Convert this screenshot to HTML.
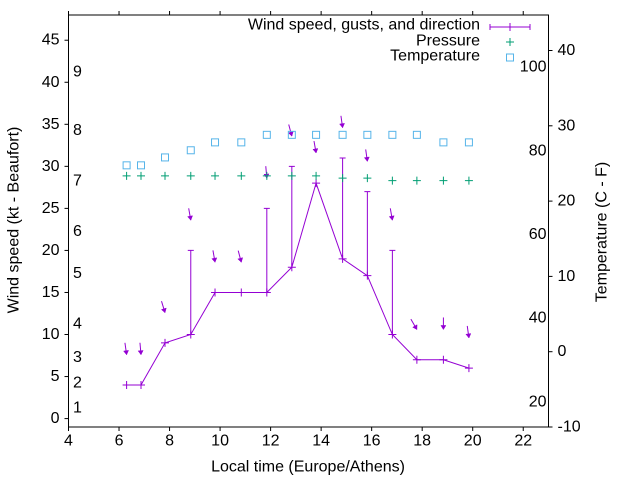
<!DOCTYPE html>
<html><head><meta charset="utf-8"><style>
body{margin:0;background:#fff}
svg{display:block;font-family:"Liberation Sans",sans-serif}
</style></head><body>
<svg id="c" width="640" height="480" viewBox="0 0 640 480"></svg>
<script>
const times=[6.3,6.87,7.82,8.84,9.8,10.84,11.85,12.84,13.8,14.85,15.83,16.82,17.79,18.84,19.85];
const speeds=[4,4,9,10,15,15,15,18,28,19,17,10,7,7,6];
const gusts=[4,4,9,20,15,15,25,30,28,31,27,20,7,7,6];
const directions=[352,355,343,350,350,345,355,345,350,352,352,350,330,0,352];
const pressure=[28.87,28.87,28.87,28.87,28.87,28.87,28.87,28.87,28.87,28.6,28.6,28.3,28.3,28.3,28.3];
const tempC=[24.75,24.75,25.8,26.75,27.8,27.8,28.8,28.8,28.8,28.8,28.8,28.8,28.8,27.8,27.8];
const xTicks=[4,6,8,10,12,14,16,18,20,22];
const yTicks=[0,5,10,15,20,25,30,35,40,45];
const cTicks=[-10,0,10,20,30,40];
const fTicks=[20,40,60,80,100];
const beaufortKt=[1,4,7,11,17,22,28,34,41];
const beaufortLabels=["1","2","3","4","5","6","7","8","9"];

const L=68.5,R=548.5,T=15,B=427;
const FS=16;
const X=v=>L+(v-4)*(R-L)/19;
const Y=v=>B-(v+1)*(B-T)/49;
const YC=c=>427-(c+10)*7.53;
const YF=f=>YC((f-32)*5/9);
const svg=document.getElementById('c');
const NS='http://www.w3.org/2000/svg';
function mk(tag,attrs,name,parent){const e=document.createElementNS(NS,tag);for(const k in attrs)e.setAttribute(k,attrs[k]);


(parent||svg).appendChild(e);return e;}
function txt(x,y,s,anchor,name,extra){const t=mk('text',Object.assign({x:x,y:y,'font-size':FS,fill:'#000','text-anchor':anchor||'middle','dominant-baseline':'central'},extra||{}),name);t.textContent=s;return t;}

mk('rect',{x:L,y:T,width:R-L,height:B-T,fill:'none',stroke:'#000','stroke-width':1},'plot-frame');
xTicks.forEach(v=>{mk('line',{x1:X(v),x2:X(v),y1:B,y2:B+4,stroke:'#000'},'x-tick');mk('line',{x1:X(v),x2:X(v),y1:T,y2:T-4,stroke:'#000'},'x2-tick');txt(X(v),B+14,String(v),'middle','x-tick-label');});
yTicks.forEach(v=>{mk('line',{x1:L-4,x2:L,y1:Y(v),y2:Y(v),stroke:'#000'},'y-tick');txt(L-9,Y(v),String(v),'end','y-tick-label');});
cTicks.forEach(v=>{mk('line',{x1:R,x2:R+4,y1:YC(v),y2:YC(v),stroke:'#000'},'y2-tick');txt(R+9,YC(v),String(v),'start','y2-tick-label-celsius');});
fTicks.forEach(v=>{txt(R-2,YF(v),String(v),'end','fahrenheit-label');});
beaufortKt.forEach((k,i)=>{txt(73,Y(k)-2,beaufortLabels[i],'start','beaufort-label');});

txt(308,467,'Local time (Europe/Athens)','middle','x-axis-title');
txt(0,0,'Wind speed (kt - Beaufort)','middle','y-axis-title',{transform:'translate(14,220) rotate(-90)'});
txt(0,0,'Temperature (C - F)','middle','y2-axis-title',{transform:'translate(602,232) rotate(-90)'});

const P='#9400d3';
mk('polyline',{points:times.map((t,i)=>X(t)+','+Y(speeds[i])).join(' '),fill:'none',stroke:P,'stroke-width':1},'wind-speed-line');
times.forEach((t,i)=>{
  const x=X(t),y=Y(speeds[i]);
  mk('path',{d:`M${x-4},${y}H${x+4}M${x},${y-4}V${y+4}`,stroke:P,'stroke-width':1},'wind-speed-point');
  if(gusts[i]>speeds[i]){const g=Y(gusts[i]);
    mk('path',{d:`M${x},${y}V${g}M${x-3},${g}H${x+3}`,stroke:P,'stroke-width':1,fill:'none'},'gust-bar');}
  const hy=Y(Math.max(gusts[i],speeds[i])+3.6);
  const a=directions[i]*Math.PI/180,dx=-Math.sin(a),dy=Math.cos(a),len=12;
  const tx=x-dx*len,ty=hy-dy*len;
  const bx=x-dx*4,by=hy-dy*4,px=-dy*2.5,py=dx*2.5;
  mk('line',{x1:tx,y1:ty,x2:x,y2:hy,stroke:P,'stroke-width':1},'direction-arrow');
  mk('polygon',{points:`${x},${hy} ${bx+px},${by+py} ${bx-px},${by-py}`,fill:P,stroke:P,'stroke-width':0.5},'direction-arrowhead');
});
const G='#009e73';
times.forEach((t,i)=>{const x=X(t),y=Y(pressure[i]);mk('path',{d:`M${x-4},${y}H${x+4}M${x},${y-4}V${y+4}`,stroke:G,'stroke-width':1},'pressure-point');});
const C='#56b4e9';
times.forEach((t,i)=>{const x=X(t),y=YC(tempC[i]);mk('rect',{x:x-3.5,y:y-3.5,width:7,height:7,fill:'none',stroke:C,'stroke-width':1},'temperature-point');});

txt(480,25,'Wind speed, gusts, and direction','end','legend-wind-label');
mk('path',{d:'M490,27H530M490,24V30M530,24V30M510,23V31',stroke:P,'stroke-width':1},'legend-wind-sample');
txt(480,41,'Pressure','end','legend-pressure-label');
mk('path',{d:'M506,42H514M510,38V46',stroke:G,'stroke-width':1},'legend-pressure-sample');
txt(480,56,'Temperature','end','legend-temperature-label');
mk('rect',{x:506.5,y:54,width:7,height:7,fill:'none',stroke:C,'stroke-width':1},'legend-temperature-sample');
</script>
</body></html>
